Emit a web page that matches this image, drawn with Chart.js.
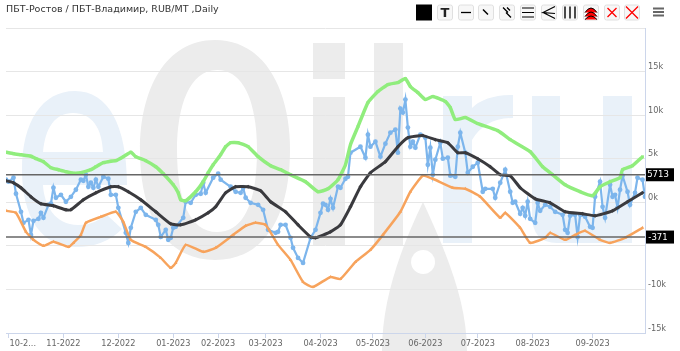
<!DOCTYPE html>
<html>
<head>
<meta charset="utf-8">
<script src="https://cdn.jsdelivr.net/npm/chart.js@4/dist/chart.umd.min.js"></script>
<style>
	html, body { margin: 0; padding: 0; background: #fff; overflow: hidden; }
	#wrap { position: relative; width: 680px; height: 351px; font-family: "DejaVu Sans", sans-serif; }
	#wrap > svg, #wrap > canvas, #title { position: absolute; left: 0; top: 0; }
	#title { left: 6px; top: 2px; font-size: 9.5px; line-height: 13px; color: #333; white-space: nowrap; }
</style>
</head>
<body>
<div id="wrap">
	<svg id="watermark" width="680" height="351">
		<g fill="#e9f1f9">
			<path fill-rule="evenodd" d="M75 91 C108 91 127 125 127 185 H43 C44 205 55 225 78 225 C92 225 100 220 106 214 L122 229 C110 241 95 247 76 247 C40 247 22 215 22 170 C22 122 42 91 75 91 Z M73 113 C55 113 45 128 43 152 H103 C102 128 92 113 73 113 Z"/>
			<path d="M443 96 H472 V108 Q485 95 513 95 V118 Q485 118 472 140 V243 H443 Z"/>
			<path d="M532 96 H560 V205 Q560 217 581 217 Q603 217 603 200 V96 H632 V243 H557 Q532 243 532 215 Z"/>
		</g>
		<g fill="#ececec">
			<path fill-rule="evenodd" d="M215 40 C265 40 290 90 290 150 C290 215 265 260 215 260 C165 260 140 215 140 150 C140 90 165 40 215 40 Z M217 70 C190 70 177 105 177 150 C177 200 190 232 217 232 C245 232 257 200 257 150 C257 105 245 70 217 70 Z"/>
			<rect x="313" y="43" width="32" height="36"/>
			<rect x="313" y="97" width="32" height="148"/>
			<rect x="374" y="43" width="29" height="202"/>
			<path fill-rule="evenodd" d="M423 202 C445 250 467 300 467 351 H382 C382 300 400 250 423 202 Z M423 250 A12 12 0 1 0 423.1 274 A12 12 0 1 0 423 250 Z"/>
		</g>
	</svg>
	<canvas id="chart" width="680" height="351"></canvas>
	<div id="title">ПБТ-Ростов / ПБТ-Владимир, RUB/MT ,Daily</div>
	<svg id="toolbar" width="680" height="28"></svg>
</div>
<script>
// sessions counted from the first bar of the chart, values in RUB/MT
const green_days = [0, 3, 6, 10, 12, 15, 18, 21, 24, 27, 30, 34, 36, 39, 42, 44, 47, 50, 52, 56, 60, 63, 67, 69, 70, 72, 76, 79, 81, 83, 86, 88, 90, 93, 97, 101, 106, 110, 114, 120, 125, 129, 133, 136, 138, 141, 145, 149, 153, 157, 160, 162, 165, 168, 171, 176, 178, 180, 184, 189, 197, 202, 210, 215, 219, 224, 230, 235, 238, 242, 246, 247, 251, 255];
const green_values = [5750, 5580, 5460, 5290, 5000, 4660, 3970, 3740, 3510, 3340, 3390, 3740, 4080, 4540, 4720, 4770, 5230, 5750, 5230, 4770, 4080, 3280, 2010, 1090, 290, 170, 1210, 2360, 3390, 4310, 5460, 6380, 6840, 6840, 6380, 5230, 4200, 3740, 3160, 2360, 1210, 1550, 2590, 4310, 6610, 8680, 11440, 12710, 13510, 13740, 14200, 13280, 12590, 11790, 12130, 11560, 10870, 9490, 9720, 9030, 8220, 7190, 5810, 4080, 3160, 2010, 1210, 750, 1780, 2360, 2820, 3740, 4200, 5230];

const black_days = [0, 3, 6, 10, 14, 19, 24, 26, 31, 36, 42, 45, 49, 54, 60, 66, 70, 76, 81, 84, 88, 92, 97, 102, 106, 112, 117, 122, 124, 130, 134, 138, 142, 146, 152, 157, 161, 167, 172, 177, 181, 184, 189, 194, 198, 202, 206, 212, 218, 224, 231, 236, 243, 249, 255];
const black_values = [2470, 2240, 1670, 630, -170, -400, -860, -860, 290, 1090, 1780, 1780, 1210, 290, -1090, -2470, -2590, -2010, -1210, -520, 1090, 1780, 1780, 1320, 60, -1090, -2590, -3970, -4080, -3390, -2590, -520, 1780, 3390, 4660, 6380, 7420, 7650, 7190, 6840, 5690, 5690, 5000, 4080, 3160, 3050, 1670, 400, -60, -1090, -1320, -1550, -980, 60, 1090];

const orange_days = [0, 4, 8, 11, 15, 19, 25, 27, 30, 32, 38, 44, 47, 50, 56, 62, 66, 68, 72, 79, 84, 91, 96, 100, 104, 109, 114, 119, 123, 130, 134, 140, 146, 151, 158, 162, 167, 171, 179, 184, 190, 198, 200, 206, 210, 216, 218, 224, 228, 232, 238, 242, 248, 255];
const orange_values = [-980, -1210, -3390, -4310, -5000, -4540, -5120, -4660, -3740, -2360, -1670, -1090, -2240, -4310, -5120, -6380, -7530, -6960, -4890, -5690, -5230, -3740, -2700, -2360, -2590, -4890, -6610, -9140, -9720, -8570, -8800, -6840, -5460, -3740, -1090, 1210, 3050, 2700, 1670, 1550, 630, -1780, -1210, -2930, -4660, -4080, -3510, -4310, -3740, -3280, -4310, -4660, -4080, -2930];

const blue_days = [0, 1, 3, 4, 6, 7, 9, 10, 11, 13, 14, 15, 17, 18, 19, 20, 22, 24, 26, 28, 30, 31, 32, 33, 34, 35, 36, 37, 39, 41, 42, 44, 45, 48, 49, 50, 52, 54, 56, 60, 61, 62, 64, 65, 66, 67, 68, 71, 72, 74, 76, 78, 79, 80, 83, 85, 86, 90, 92, 94, 95, 96, 98, 101, 103, 105, 108, 109, 110, 112, 114, 115, 117, 119, 122, 124, 126, 127, 128, 129, 130, 131, 133, 134, 136, 137, 138, 142, 144, 145, 146, 148, 150, 152, 154, 156, 157, 158, 159, 160, 161, 162, 163, 164, 166, 168, 169, 170, 171, 172, 174, 175, 177, 178, 180, 181, 182, 184, 185, 187, 189, 191, 192, 195, 196, 198, 200, 202, 203, 204, 206, 207, 208, 209, 210, 212, 213, 214, 216, 218, 220, 223, 224, 225, 226, 228, 229, 230, 232, 234, 235, 236, 238, 239, 240, 242, 243, 244, 245, 246, 247, 249, 250, 252, 253, 255, 256];
const blue_values = [2590, 2360, 2820, 980, -1090, -2360, -2010, -3740, -2130, -1900, -1210, -1780, -290, -170, 1670, 520, 860, 60, 630, 1440, 2590, 2470, 3160, 1780, 2240, 1670, 2590, 1780, 2930, 2700, 860, 860, -630, -3510, -4660, -2930, -1090, -630, -1440, -2010, -2590, -3970, -3160, -4310, -4080, -2930, -2820, -1780, 60, -60, 860, 980, 2240, 1090, 2820, 3280, 2590, 1780, 1210, 1090, 1670, 520, -60, -290, -860, -3160, -3510, -3390, -2590, -2590, -4080, -5230, -6380, -6960, -4080, -3160, -1210, -170, -290, -860, 400, -630, 1780, 1670, 2700, 2930, 5690, 6380, 5120, 7760, 6380, 6960, 5230, 6730, 7990, 8340, 5690, 10750, 10290, 11790, 8570, 6380, 6960, 6270, 7760, 7420, 4310, 6270, 3160, 4890, 6840, 5000, 5120, 3050, 2930, 6380, 7990, 5690, 3390, 4080, 4540, 1210, 1550, 1550, 520, 2240, 3740, 1210, -60, 60, -1320, -630, -1550, 60, -1900, -2360, -60, -980, -290, -520, -1090, -1440, -3160, -3510, -1550, -1440, -3970, -1440, -1670, -2820, -2930, 630, 2360, -520, -1780, 2010, 630, 860, -630, 1440, 3050, 1210, -290, 1090, 2820, 2590, 630];

const tick_days = [1, 23, 45, 67, 85, 104, 126, 147, 168, 189, 211, 235];
const tick_labels = ['           10-2...', '11-2022', '12-2022', '01-2023', '02-2023', '03-2023', '04-2023', '05-2023', '06-2023', '07-2023', '08-2023', '09-2023'];
const y_ticks = [-15000, -10000, -5000, 0, 5000, 10000, 15000, 20000];

const level_values = [3160, -3990];
const level_labels = ['5713', '-371'];

const first_day = 0;
const last_day = 256;


function toPoints(days, values) {
	return days.map((day, i) => ({x: day, y: values[i]}));
}

function levelDataset(value) {
	return {
		data: [{x: first_day, y: value}, {x: last_day, y: value}],
		borderColor: '#666',
		borderWidth: 1.5,
		pointRadius: 0,
		order: 0
	};
}

// black boxes with the current level on the right axis
const level_boxes = {
	id: 'level_boxes',
	afterDraw(chart) {
		const {ctx, scales} = chart;
		ctx.save();
		ctx.font = '8.5px "DejaVu Sans"';
		ctx.textAlign = 'center';
		ctx.textBaseline = 'middle';
		level_values.forEach((value, i) => {
			const y = scales.y.getPixelForValue(value);
			ctx.fillStyle = '#000';
			ctx.fillRect(scales.x.right + 1, y - 6.5, 28, 13);
			ctx.fillStyle = '#fff';
			ctx.fillText(level_labels[i], scales.x.right + 13, y + 0.5);
		});
		ctx.restore();
	}
};

new Chart(document.getElementById('chart'), {
	type: 'line',
	data: {
		datasets: [
			{data: toPoints(blue_days, blue_values), borderColor: '#7cb5ec', backgroundColor: '#7cb5ec', borderWidth: 2.2, pointRadius: 2.4, pointBorderWidth: 0, order: 4},
			{data: toPoints(green_days, green_values), borderColor: '#90ed7d', backgroundColor: '#90ed7d', borderWidth: 3.5, pointStyle: 'rect', pointRadius: 2, pointBorderWidth: 0, tension: 0.15, order: 3},
			{data: toPoints(orange_days, orange_values), borderColor: '#f7a35c', backgroundColor: '#f7a35c', borderWidth: 2.5, pointStyle: 'triangle', pointRadius: 2, pointBorderWidth: 0, tension: 0.15, order: 2},
			{data: toPoints(black_days, black_values), borderColor: '#3a3a3e', backgroundColor: '#3a3a3e', borderWidth: 3, pointStyle: 'rectRot', pointRadius: 2, pointBorderWidth: 0, tension: 0.15, order: 1},
			levelDataset(level_values[0]),
			levelDataset(level_values[1])
		]
	},
	options: {
		responsive: false,
		animation: false,
		layout: {padding: {left: 6, top: 28, right: 0, bottom: 0}},
		plugins: {legend: {display: false}, tooltip: {enabled: false}},
		scales: {
			x: {
				type: 'linear',
				min: first_day,
				max: last_day,
				grid: {drawOnChartArea: false, color: '#ccd6eb', tickLength: 5, tickColor: '#ccd6eb'},
				border: {color: '#ccd6eb'},
				afterBuildTicks(scale) {
					scale.ticks = tick_days.map(day => ({value: day}));
				},
				afterFit(scale) {
					scale.height = 18;
					scale.paddingLeft = 0;
					scale.paddingRight = 0;
				},
				ticks: {
					autoSkip: false,
					maxRotation: 0,
					padding: 1,
					color: '#666',
					font: {family: '"DejaVu Sans"', size: 8.2},
					callback: (value) => tick_labels[tick_days.indexOf(value)]
				}
			},
			y: {
				position: 'right',
				min: -15000,
				max: 20000,
				grid: {color: '#e6e6e6', drawTicks: false},
				border: {color: '#ccd6eb'},
				afterBuildTicks(scale) {
					scale.ticks = y_ticks.map(value => ({value}));
				},
				afterFit(scale) {
					scale.width = 35;
				},
				ticks: {
					padding: 3,
					color: '#666',
					font: {family: '"DejaVu Sans"', size: 8.2, lineHeight: '9px'},
					// second empty line lifts the label above its grid line
					callback: (value) => value === 20000 ? '' : [(value / 1000) + 'k', '']
				}
			}
		}
	},
	plugins: [level_boxes]
});


// toolbar above the chart
const button_lefts = [437, 458, 478, 499, 520, 541, 562, 583, 604, 624];
const button_icons = [
	'<text x="8" y="12.5" text-anchor="middle" font-size="13" font-weight="bold" fill="#222">T</text>',
	'<path d="M3 8H13" stroke="#000" stroke-width="1.3"/>',
	'<path d="M5 5L10 10" stroke="#000" stroke-width="1.5"/>',
	'<path d="M4 3L9 8M7 8L12 13M8 3L11 6" stroke="#000" stroke-width="1.3"/>',
	'<path d="M2 3.5H14M2 8H14M2 12.5H14" stroke="#000" stroke-width="1.2"/>',
	'<path d="M14 2L2 8L14 9M2 8L14 14" stroke="#000" stroke-width="1.2" fill="none"/>',
	'<path d="M3 2V14M8 2V14M13 2V14" stroke="#000" stroke-width="1.4"/>',
	'<path d="M2 8Q8 -1 14 8M2 12Q8 3 14 12M2 15Q8 8 14 15" stroke="#000" stroke-width="1" fill="#f00"/>',
	'<path d="M3.5 3.5L12.5 12.5M12.5 3.5L3.5 12.5" stroke="#f00" stroke-width="1.3"/>',
	'<path d="M2 2L14 14M14 2L2 14" stroke="#f00" stroke-width="1.3"/>'
];

let toolbar_html = '<rect x="416" y="4.5" width="16" height="16" fill="#000"/>';
button_lefts.forEach((left, i) => {
	toolbar_html += `<g transform="translate(${left} 4.5)"><rect x="0.5" y="0.5" width="15" height="15" rx="2" fill="#f7f7f7" stroke="#e0e0e0"/>${button_icons[i]}</g>`;
});
toolbar_html += '<path d="M653 8.5H664M653 12H664M653 15.5H664" stroke="#666" stroke-width="2"/>';
document.getElementById('toolbar').innerHTML = toolbar_html;
</script>
</body>
</html>
